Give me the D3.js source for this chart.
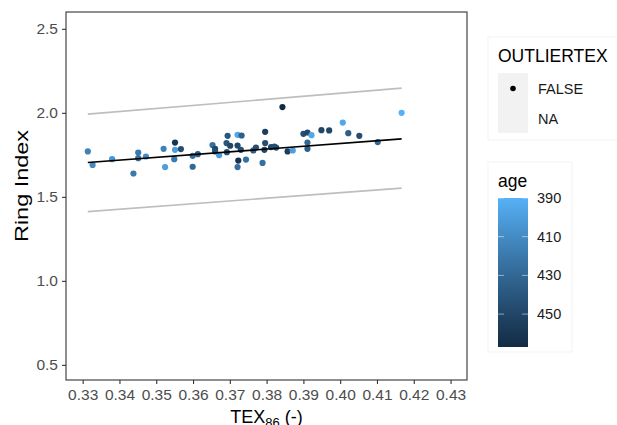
<!DOCTYPE html>
<html>
<head>
<meta charset="utf-8">
<script src="https://cdn.jsdelivr.net/npm/d3@7"></script>
<style>
  body { margin: 0; background: white; }
  text { font-family: "Liberation Sans", Arial, sans-serif; }
</style>
</head>
<body>
<div id="chart"></div>
<script>
// TEX86 vs Ring Index, coloured by age
var tex = [0.3314, 0.3327, 0.3380, 0.3438, 0.3451, 0.3451, 0.3472, 0.3520, 0.3524, 0.3551,
  0.3551, 0.3549, 0.3567, 0.3599, 0.3599, 0.3613, 0.3653, 0.3660, 0.3660, 0.3671,
  0.3691, 0.3694, 0.3692, 0.3701, 0.3721, 0.3732, 0.3721, 0.3730, 0.3723, 0.3721,
  0.3744, 0.3764, 0.3771, 0.3789, 0.3796, 0.3796, 0.3794, 0.3812, 0.3821, 0.3826,
  0.3843, 0.3857, 0.3871, 0.3900, 0.3911, 0.3922, 0.3911, 0.3911, 0.3949, 0.3970,
  0.4007, 0.4022, 0.4052, 0.4102, 0.4167]
var ringIndex = [1.770, 1.690, 1.724, 1.639, 1.764, 1.730, 1.740, 1.786, 1.677, 1.823,
  1.780, 1.724, 1.784, 1.744, 1.679, 1.754, 1.808, 1.786, 1.770, 1.748,
  1.820, 1.863, 1.766, 1.804, 1.869, 1.865, 1.805, 1.780, 1.716, 1.677,
  1.722, 1.776, 1.793, 1.702, 1.887, 1.820, 1.780, 1.796, 1.799, 1.793,
  2.034, 1.770, 1.776, 1.875, 1.883, 1.867, 1.823, 1.786, 1.897, 1.895,
  1.942, 1.879, 1.863, 1.826, 2.000]
var age = [415, 410, 405, 420, 420, 425, 410, 415, 400, 460,
  400, 420, 445, 425, 430, 435, 425, 450, 445, 400,
  440, 440, 445, 450, 395, 435, 450, 445, 462, 425,
  425, 435, 445, 425, 455, 445, 450, 450, 445, 445,
  467, 455, 400, 445, 450, 395, 430, 435, 450, 450,
  395, 435, 445, 430, 390]

// fitted line and prediction band
var fitTex = [0.3314, 0.4167]
var fitRI = [1.704, 1.845]
var upperRI = [1.992, 2.147]
var lowerRI = [1.412, 1.552]

var xTicks = [0.33, 0.34, 0.35, 0.36, 0.37, 0.38, 0.39, 0.40, 0.41, 0.42, 0.43]
var yTicks = [0.5, 1.0, 1.5, 2.0, 2.5]
var ageTicks = [390, 410, 430, 450]
var outlierLevels = ["FALSE", "NA"]

var width = 617, height = 425
// note: "top" is taken by window.top, so prefix these
var pLeft = 66, pRight = 467, pTop = 12, pBottom = 380

var svg = d3.select("#chart").append("svg")
  .attr("width", width)
  .attr("height", height)

svg.append("rect").attr("width", width).attr("height", height).attr("fill", "white")

var x = d3.scaleLinear().domain([0.32547, 0.43447]).range([pLeft, pRight])
var y = d3.scaleLinear().domain([0.41, 2.6]).range([pBottom, pTop])

var ageExt = d3.extent(age)
var color = d3.scaleLinear()
  .domain([ageExt[0], ageExt[1]])
  .range(["#56B1F7", "#132B43"])
  .interpolate(d3.interpolateLab)

// axes
svg.append("g")
  .attr("transform", "translate(0," + pBottom + ")")
  .call(d3.axisBottom(x).tickValues(xTicks).tickFormat(d3.format(".2f")).tickSize(4).tickPadding(5))
svg.append("g")
  .attr("transform", "translate(" + pLeft + ",0)")
  .call(d3.axisLeft(y).tickValues(yTicks).tickFormat(d3.format(".1f")).tickSize(4).tickPadding(4))

svg.selectAll(".domain").remove()
svg.selectAll(".tick line").attr("stroke", "#333").attr("stroke-width", 1.1)
svg.selectAll(".tick text")
  .attr("fill", "#4D4D4D")
  .style("font-size", "15.5px")
  .style("font-family", "'Liberation Sans', Arial, sans-serif")

// band + fit
var line = d3.line().x(function (d) { return x(d[0]) }).y(function (d) { return y(d[1]) })
svg.append("path").datum(d3.zip(fitTex, upperRI)).attr("d", line)
  .attr("fill", "none").attr("stroke", "#BEBEBE").attr("stroke-width", 1.6)
svg.append("path").datum(d3.zip(fitTex, lowerRI)).attr("d", line)
  .attr("fill", "none").attr("stroke", "#BEBEBE").attr("stroke-width", 1.6)

// points
svg.append("g").selectAll("circle")
  .data(d3.range(tex.length))
  .enter()
  .append("circle")
  .attr("cx", function (i) { return x(tex[i]) })
  .attr("cy", function (i) { return y(ringIndex[i]) })
  .attr("r", 3.1)
  .attr("fill", function (i) { return color(age[i]) })

svg.append("path").datum(d3.zip(fitTex, fitRI)).attr("d", line)
  .attr("fill", "none").attr("stroke", "black").attr("stroke-width", 1.6)

// panel border
svg.append("rect")
  .attr("x", pLeft).attr("y", pTop)
  .attr("width", pRight - pLeft).attr("height", pBottom - pTop)
  .attr("fill", "none").attr("stroke", "#333").attr("stroke-width", 1.1)

// axis titles
var xTitle = svg.append("text")
  .attr("x", (pLeft + pRight) / 2).attr("y", 423)
  .attr("text-anchor", "middle")
  .style("font-size", "18px")
xTitle.append("tspan").text("TEX")
xTitle.append("tspan").text("86").attr("dy", 4).style("font-size", "13px")
xTitle.append("tspan").text(" (-)").attr("dy", -4)

// y title looks stretched along the axis in the original
svg.append("text")
  .attr("transform", "translate(28,186)rotate(-90)")
  .attr("text-anchor", "middle")
  .attr("textLength", 112)
  .attr("lengthAdjust", "spacingAndGlyphs")
  .style("font-size", "18px")
  .text("Ring Index")

// legend: OUTLIERTEX
var lg = svg.append("g")
lg.append("rect").attr("x", 488).attr("y", 37).attr("width", 140).attr("height", 103)
  .attr("fill", "white").attr("stroke", "#F3F3F3")
lg.append("text").attr("x", 498).attr("y", 62).style("font-size", "17.5px").text("OUTLIERTEX")
lg.selectAll(".key")
  .data(outlierLevels)
  .enter()
  .append("rect")
  .attr("x", 498).attr("y", function (d, i) { return 73 + i * 30 })
  .attr("width", 30).attr("height", 30)
  .attr("fill", "#F2F2F2")
lg.append("circle").attr("cx", 513).attr("cy", 88.5).attr("r", 2.8).attr("fill", "black")
lg.selectAll(".lab")
  .data(outlierLevels)
  .enter()
  .append("text")
  .attr("x", 538).attr("y", function (d, i) { return 93.5 + i * 30 })
  .style("font-size", "14.5px")
  .attr("fill", "#1A1A1A")
  .text(function (d) { return d })

// legend: age colourbar
var cb = svg.append("g")
cb.append("rect").attr("x", 488).attr("y", 162).attr("width", 84).attr("height", 190)
  .attr("fill", "white").attr("stroke", "#F3F3F3")
cb.append("text").attr("x", 498).attr("y", 187).style("font-size", "17.5px").text("age")

var barTop = 198, barBottom = 347, barX = 498, barW = 30
var ageY = d3.scaleLinear().domain(ageExt).range([barTop, barBottom])

var grad = svg.append("defs").append("linearGradient")
  .attr("id", "ageGrad").attr("x1", 0).attr("y1", 0).attr("x2", 0).attr("y2", 1)
d3.range(0, 1.0001, 0.1).forEach(function (t) {
  grad.append("stop")
    .attr("offset", t)
    .attr("stop-color", color(ageExt[0] + t * (ageExt[1] - ageExt[0])))
})
cb.append("rect").attr("x", barX).attr("y", barTop).attr("width", barW).attr("height", barBottom - barTop)
  .attr("fill", "url(#ageGrad)")

ageTicks.forEach(function (a) {
  var yy = ageY(a)
  cb.append("line").attr("x1", barX).attr("x2", barX + 6).attr("y1", yy).attr("y2", yy)
    .attr("stroke", "white").attr("stroke-opacity", 0.5)
  cb.append("line").attr("x1", barX + barW - 6).attr("x2", barX + barW).attr("y1", yy).attr("y2", yy)
    .attr("stroke", "white").attr("stroke-opacity", 0.5)
  cb.append("text").attr("x", 537).attr("y", yy + 5)
    .style("font-size", "14.5px")
    .attr("fill", "#1A1A1A")
    .text(a)
})
</script>
</body>
</html>
